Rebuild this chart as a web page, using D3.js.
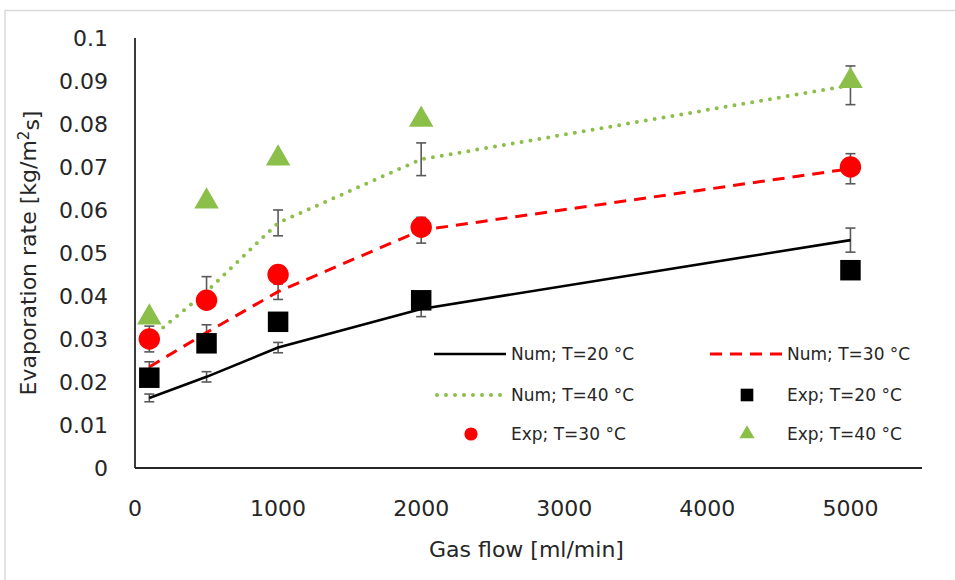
<!DOCTYPE html>
<html>
<head>
<meta charset="utf-8">
<script src="https://cdn.jsdelivr.net/npm/d3@7"></script>
<style>
  body { margin: 0; background: #fff; }
  text { font-family: "DejaVu Sans", sans-serif; fill: #262626; }
</style>
</head>
<body>
<div id="chart"></div>
<script>
// gas flow values [ml/min]
const flows = [100, 500, 1000, 2000, 5000]

// numerical results (lines with error bars)
const num20 = [0.0163, 0.0212, 0.0280, 0.0370, 0.0530]
const num30 = [0.0235, 0.0315, 0.0410, 0.0553, 0.0696]
const num40 = [0.0300, 0.0410, 0.0570, 0.0718, 0.0890]
const err20 = [0.0009, 0.0012, 0.0012, 0.0018, 0.0028]
const err30 = [0.0012, 0.0018, 0.0018, 0.0030, 0.0035]
const err40 = [0.0030, 0.0035, 0.0030, 0.0038, 0.0045]

// experimental results (markers)
const exp20 = [0.021, 0.029, 0.034, 0.039, 0.046]
const exp30 = [0.030, 0.039, 0.045, 0.056, 0.070]
const exp40 = [0.035, 0.062, 0.072, 0.081, 0.090]

const xTicks = [0, 1000, 2000, 3000, 4000, 5000]
const yTicks = [0, 0.01, 0.02, 0.03, 0.04, 0.05, 0.06, 0.07, 0.08, 0.09, 0.1]

let dimensions = {
    width: 955,
    height: 580,
    left: 135,
    right: 922,
    top: 38,
    bottom: 468,
}

const svg = d3.select('#chart')
    .append("svg")
    .attr("width", dimensions.width)
    .attr("height", dimensions.height)

// light frame of the chart object
svg.append("path")
    .attr("d", "M5,580 L5,10.5 L955,10.5")
    .attr("fill", "none")
    .attr("stroke", "#d9d9d9")
    .attr("stroke-width", 1.5)

var x = d3.scaleLinear()
    .domain([0, 5500])
    .range([dimensions.left, dimensions.right])

var y = d3.scaleLinear()
    .domain([0, 0.1])
    .range([dimensions.bottom, dimensions.top])

// axes
svg.append("line")
    .attr("x1", x(0)).attr("x2", x(0))
    .attr("y1", y(0.1)).attr("y2", y(0))
    .attr("stroke", "#262626").attr("stroke-width", 1.8)
svg.append("line")
    .attr("x1", x(0)).attr("x2", x(5500))
    .attr("y1", y(0)).attr("y2", y(0))
    .attr("stroke", "#262626").attr("stroke-width", 1.8)

svg.selectAll(".ytick")
    .data(yTicks)
    .enter()
    .append("text")
    .attr("x", 108)
    .attr("y", d => y(d))
    .attr("dy", "0.35em")
    .attr("text-anchor", "end")
    .style("font-size", "22px")
    .text(d => d3.format("~g")(d))

svg.selectAll(".xtick")
    .data(xTicks)
    .enter()
    .append("text")
    .attr("x", d => x(d))
    .attr("y", 508)
    .attr("dy", "0.35em")
    .attr("text-anchor", "middle")
    .style("font-size", "22px")
    .text(d => d)

// axis titles
svg.append("text")
    .attr("x", (x(0) + x(5500)) / 2 - 2)
    .attr("y", 549)
    .attr("dy", "0.35em")
    .attr("text-anchor", "middle")
    .style("font-size", "22px")
    .text("Gas flow [ml/min]")

const yTitle = svg.append("text")
    .attr("transform", `translate(28, ${(y(0) + y(0.1)) / 2}) rotate(-90)`)
    .attr("dy", "0.35em")
    .attr("text-anchor", "middle")
    .style("font-size", "22px")
yTitle.append("tspan").text("Evaporation rate [kg/m")
yTitle.append("tspan").attr("dy", "-0.45em").style("font-size", "15px").text("2")
yTitle.append("tspan").attr("dy", "0.45em").text("s]")

// series styles
const numSeries = [
    { vals: num20, err: err20, color: "#000000", width: 2.6, dash: null, cap: "butt", label: "Num; T=20 °C" },
    { vals: num30, err: err30, color: "#ff0000", width: 3, dash: "12,8", cap: "butt", label: "Num; T=30 °C" },
    { vals: num40, err: err40, color: "#8cbf4a", width: 4, dash: "0,9", cap: "round", label: "Num; T=40 °C" },
]

var line = d3.line()
    .x((d, i) => x(flows[i]))
    .y(d => y(d))

// error bars
numSeries.forEach(s => {
    const g = svg.append("g")
        .attr("stroke", "#595959")
        .attr("stroke-width", 1.6)
    s.vals.forEach((v, i) => {
        const cx = x(flows[i])
        g.append("line")
            .attr("x1", cx).attr("x2", cx)
            .attr("y1", y(v - s.err[i])).attr("y2", y(v + s.err[i]))
        g.append("line")
            .attr("x1", cx - 5).attr("x2", cx + 5)
            .attr("y1", y(v - s.err[i])).attr("y2", y(v - s.err[i]))
        g.append("line")
            .attr("x1", cx - 5).attr("x2", cx + 5)
            .attr("y1", y(v + s.err[i])).attr("y2", y(v + s.err[i]))
    })
})

// lines
numSeries.forEach(s => {
    svg.append("path")
        .datum(s.vals)
        .attr("d", line)
        .attr("fill", "none")
        .attr("stroke", s.color)
        .attr("stroke-width", s.width)
        .attr("stroke-dasharray", s.dash)
        .attr("stroke-linecap", s.cap)
})

// markers
const expSeries = [
    { vals: exp20, color: "#000000", shape: d3.symbolSquare, size: 420, label: "Exp; T=20 °C" },
    { vals: exp30, color: "#ff0000", shape: d3.symbolCircle, size: 360, label: "Exp; T=30 °C" },
    { vals: exp40, color: "#8cbf4a", shape: d3.symbolTriangle, size: 260, label: "Exp; T=40 °C" },
]

expSeries.forEach(s => {
    svg.append("g")
        .selectAll("path")
        .data(s.vals)
        .enter()
        .append("path")
        .attr("transform", (d, i) => `translate(${x(flows[i])}, ${y(d)})`)
        .attr("d", d3.symbol().type(s.shape).size(s.size))
        .attr("fill", s.color)
})

// legend
const legendItems = [
    { kind: "line", s: numSeries[0], col: 0, row: 0 },
    { kind: "line", s: numSeries[1], col: 1, row: 0 },
    { kind: "line", s: numSeries[2], col: 0, row: 1 },
    { kind: "mark", s: expSeries[0], col: 1, row: 1 },
    { kind: "mark", s: expSeries[1], col: 0, row: 2 },
    { kind: "mark", s: expSeries[2], col: 1, row: 2 },
]
const colX = [434, 710]
const rowY = [354, 395, 434]

legendItems.forEach(item => {
    const lx = colX[item.col]
    const ly = rowY[item.row]
    if (item.kind === "line") {
        svg.append("line")
            .attr("x1", lx + (item.s.cap === "round" ? 3 : 0)).attr("x2", lx + 72)
            .attr("y1", ly).attr("y2", ly)
            .attr("stroke", item.s.color)
            .attr("stroke-width", item.s.width)
            .attr("stroke-dasharray", item.s.dash)
            .attr("stroke-linecap", item.s.cap)
    } else {
        svg.append("path")
            .attr("transform", `translate(${lx + 37}, ${ly})`)
            .attr("d", d3.symbol().type(item.s.shape).size(item.s.size * 0.38))
            .attr("fill", item.s.color)
    }
    svg.append("text")
        .attr("x", lx + 77)
        .attr("y", ly)
        .attr("dy", "0.35em")
        .style("font-size", "17px")
        .text(item.s.label)
})
</script>
</body>
</html>
